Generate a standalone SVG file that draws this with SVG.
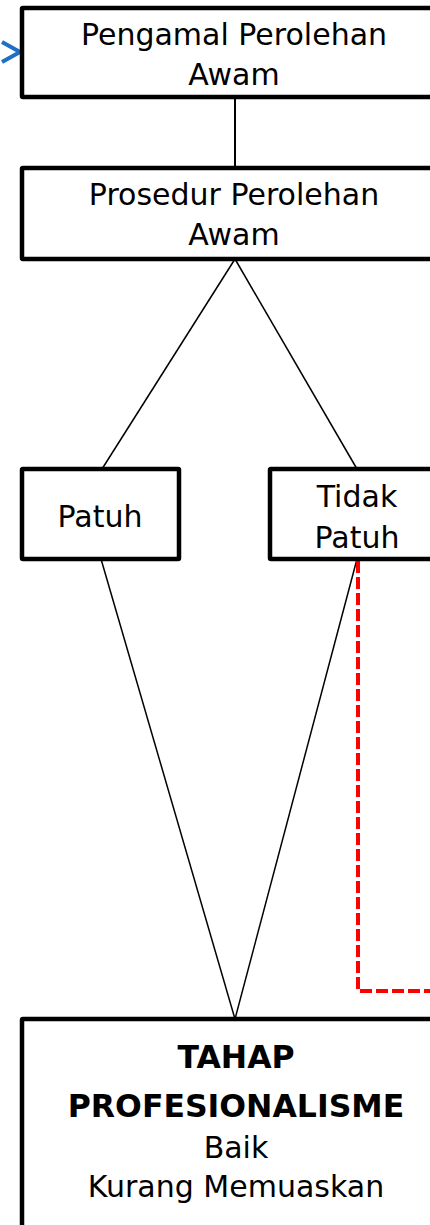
<svg xmlns="http://www.w3.org/2000/svg" width="430" height="1225" viewBox="0 0 430 1225">
<style>
.box{fill:#fff;stroke:#000;stroke-width:4.5;stroke-linejoin:round}
.t{font-family:"DejaVu Sans",Verdana,sans-serif;font-size:30px;fill:#000;text-anchor:middle}
.b{font-weight:bold;font-size:31.5px}
.ln{stroke:#000;stroke-width:1.5;fill:none}
</style>
<rect width="430" height="1225" fill="#fff"/>
<g id="connectors">
<line class="ln" x1="235" y1="97" x2="235" y2="168" style="stroke-width:2"/>
<line class="ln" x1="235" y1="259" x2="102" y2="469"/>
<line class="ln" x1="235" y1="259" x2="357" y2="469"/>
<line class="ln" x1="101" y1="559" x2="235" y2="1019"/>
<line class="ln" x1="357" y1="559" x2="235" y2="1019"/>
<polyline points="358,561 358,991 432,991" fill="none" stroke="#ff0000" stroke-width="4" stroke-dasharray="12 4"/>
<path d="M2,42 L20,52 L2,62" fill="none" stroke="#1f6fc6" stroke-width="4" stroke-linejoin="miter"/>
</g>
<g id="n1">
<rect class="box" x="22" y="8" width="425" height="89" rx="1"/>
<text class="t" x="234" y="45">Pengamal Perolehan</text>
<text class="t" x="234" y="85">Awam</text>
</g>
<g id="n2">
<rect class="box" x="22" y="168" width="425" height="91" rx="1"/>
<text class="t" x="234" y="205">Prosedur Perolehan</text>
<text class="t" x="234" y="245">Awam</text>
</g>
<g id="n3">
<rect class="box" x="22" y="469" width="157" height="90" rx="1"/>
<text class="t" x="100" y="527">Patuh</text>
</g>
<g id="n4">
<rect class="box" x="270" y="469" width="174" height="90" rx="1"/>
<text class="t" x="357" y="507">Tidak</text>
<text class="t" x="357" y="548">Patuh</text>
</g>
<g id="n5">
<rect class="box" x="22" y="1019" width="428" height="220" rx="1"/>
<text class="t b" x="236" y="1068">TAHAP</text>
<text class="t b" x="236" y="1117">PROFESIONALISME</text>
<text class="t" x="236" y="1158">Baik</text>
<text class="t" x="236" y="1197">Kurang Memuaskan</text>
</g>
</svg>
